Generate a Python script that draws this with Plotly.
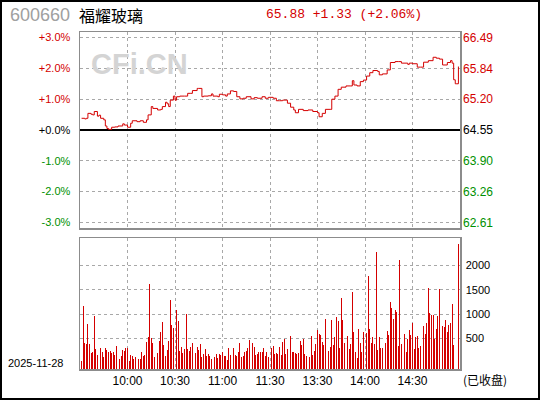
import plotly.graph_objects as go

# quote header
code = "600660"
name = "福耀玻璃"
prev_close = 64.55
last_price = 65.88
change = 1.33
trade_date = "2025-11-28"
status = "(已收盘)"

# x axis: minutes after 9:30 (lunch break removed)
time_ticks = [30, 60, 90, 120, 150, 180, 210]
time_labels = ["10:00", "10:30", "11:00", "11:30", "13:30", "14:00", "14:30"]
pct_ticks = [3, 2, 1, 0, -1, -2, -3]
vol_ticks = [500, 1000, 1500, 2000]

# intraday line, % change vs previous close
price_min = [1, 3, 4, 5, 7, 8, 9, 11, 12, 13, 15, 16, 17, 18, 20, 22, 24, 27, 28, 30,
             32, 33, 36, 38, 40, 42, 43, 45, 46, 49, 51, 52, 54, 55, 56, 57, 59, 60, 61, 63,
             66, 68, 70, 71, 74, 75, 77, 78, 81, 83, 84, 87, 88, 90, 92, 93, 95, 97, 99, 101,
             103, 105, 108, 110, 112, 115, 117, 119, 120, 122, 124, 126, 128, 131, 133, 135, 136, 138, 141, 144,
             147, 150, 151, 153, 155, 158, 159, 161, 163, 165, 168, 171, 172, 173, 175, 177, 179, 181, 183, 185,
             188, 189, 191, 194, 196, 199, 201, 203, 207, 208, 210, 213, 215, 217, 220, 223, 225, 227, 229, 232,
             234, 235, 236, 237, 238, 239]
price_pct = [0.38, 0.36, 0.38, 0.54, 0.51, 0.49, 0.60, 0.45, 0.48, 0.38, 0.33, 0.13, 0.05, 0.02, 0.09, 0.10, 0.13, 0.20, 0.16, 0.09,
             0.22, 0.30, 0.27, 0.30, 0.25, 0.33, 0.49, 0.76, 0.70, 0.65, 0.67, 0.76, 0.90, 0.85, 0.76, 0.97, 1.10, 0.97, 1.08, 1.10,
             1.10, 1.19, 1.19, 1.28, 1.35, 1.35, 1.08, 1.10, 1.11, 1.17, 1.10, 1.08, 1.16, 1.14, 1.10, 1.17, 1.27, 1.25, 1.08, 1.01,
             1.03, 1.08, 1.01, 1.05, 1.03, 1.08, 1.03, 1.06, 1.06, 1.03, 0.95, 0.95, 0.97, 0.87, 0.74, 0.65, 0.56, 0.67, 0.63, 0.65,
             0.60, 0.56, 0.43, 0.54, 0.67, 0.67, 1.00, 1.10, 1.32, 1.39, 1.43, 1.43, 1.60, 1.46, 1.43, 1.57, 1.62, 1.75, 1.86, 1.93,
             1.90, 1.79, 1.82, 1.95, 2.19, 2.22, 2.22, 2.17, 2.13, 2.17, 2.15, 2.04, 2.04, 2.20, 2.25, 2.36, 2.33, 2.30, 2.11, 2.19,
             2.25, 2.17, 1.63, 1.50, 1.50, 2.06]

# per-minute volume (lots), one bar per minute from 9:31
volume = [49, 1173, 403, 382, 798, 382, 195, 215, 965, 278, 153, 132, 299, 215, 111, 299, 257, 215, 236, 195,
          215, 153, 340, 90, 90, 132, 257, 236, 299, 299,
          49, 153, 132, 70, 111, 132, 70, 70, 215, 132, 153, 424, 528, 1610, 507, 403, 111, 257, 195, 444,
          632, 840, 361, 132, 257, 444, 1298, 778, 715, 757,
          1076, 868, 243, 326, 202, 285, 993, 285, 243, 326, 410, 326, 202, 326, 264, 389, 118, 181, 285, 139,
          181, 139, 77, 326, 118, 181, 97, 181, 160, 222, 139, 139, 56, 306, 160, 118, 306, 160, 139, 222,
          410, 118, 139, 222, 243, 306, 472, 180, 410, 326, 160, 181, 222, 222, 222, 306, 139, 222, 118, 243,
          313, 354, 188, 208, 188, 333, 167, 437, 500, 188, 292, 708, 542, 229, 229, 208, 188, 208, 458, 375,
          500, 188, 146, 188, 125, 542, 167, 250, 396, 667, 583, 563, 437, 375, 896, 542, 250, 330, 875, 375,
          521, 937, 854, 300, 1333, 875, 417, 250, 542, 292, 396, 1458, 625, 229, 104, 687, 417, 229, 625, 250,
          604, 1791, 687,
          417, 521, 396, 2270, 271, 521, 313, 313, 313, 417, 646, 563, 1250, 1125, 896, 1083, 1042, 350, 2103, 396,
          208, 583, 229, 500, 667, 563, 812, 292, 521, 542, 313, 354, 667, 750, 583, 812, 1541, 1021, 979, 979,
          500, 687, 958, 1521, 625, 750, 729, 875, 625, 771, 812, 1208, 375,
          0, 0, 2440]

RED = "#d40000"
GREEN = "#009000"
GRID = "#a8a8a8"
FRAME = "#8c8c8c"
VOL_LOW = -125

W, H = 540, 400
L, R, T, B = 80, 80, 32, 31
pw, ph = W - L - R, H - T - B


def px(x):
    return (x - L) / pw


def py(y):
    return (H - B - y) / ph


def tone(v):
    return RED if v > 0 else (GREEN if v < 0 else "#000000")


pct_text = ['<span style="color:%s">%+.1f%%</span>' % (tone(v), v) for v in pct_ticks]
price_text = ['<span style="color:%s">%.2f</span>' % (tone(v), prev_close * (1 + v / 100)) for v in pct_ticks]

bx = [i + 1 for i, v in enumerate(volume) if v > 0]
bv = [v for v in volume if v > 0]

fig = go.Figure()
fig.add_trace(go.Bar(x=bx, y=[v - VOL_LOW for v in bv], base=VOL_LOW, width=0.6,
                     marker=dict(color=RED, line=dict(width=0)), xaxis="x", yaxis="y",
                     hoverinfo="skip"))
fig.add_trace(go.Scatter(x=price_min, y=price_pct, mode="lines", line=dict(color=RED, width=1),
                         line_shape="hv", xaxis="x2", yaxis="y2", hoverinfo="skip"))
fig.add_trace(go.Scatter(x=price_min, y=price_pct, mode="lines", opacity=0, xaxis="x2", yaxis="y3",
                         hoverinfo="skip"))

axis_common = dict(showline=True, linecolor=FRAME, linewidth=1.5, mirror=True, automargin=False,
                   showgrid=True, gridcolor=GRID, griddash="dot", gridwidth=1, zeroline=False)

vol_top = py(238)
price_bot = py(228)

fig.update_layout(
    width=W, height=H, margin=dict(l=L, r=R, t=T, b=B),
    paper_bgcolor="white", plot_bgcolor="white", showlegend=False, bargap=0,
    font=dict(family="Liberation Sans", size=11, color="#000000"),
    xaxis=dict(axis_common, domain=[0, 1], anchor="y", range=[0, 240],
               tickvals=time_ticks, ticktext=time_labels, ticks="",
               tickfont=dict(family="Liberation Sans", size=12)),
    yaxis=dict(axis_common, domain=[0, vol_top], side="right", range=[VOL_LOW, 2560],
               tickvals=vol_ticks, ticks="", ticklabelstandoff=2,
               tickfont=dict(family="Liberation Sans", size=11)),
    xaxis2=dict(axis_common, domain=[0, 1], anchor="y2", range=[0, 240], matches="x",
                tickvals=time_ticks, showticklabels=False, ticks=""),
    yaxis2=dict(axis_common, domain=[price_bot, 1], anchor="x2", range=[-3.18, 3.18],
                tickvals=pct_ticks, ticktext=pct_text, ticks="", ticklabelstandoff=6,
                zeroline=True, zerolinecolor="#000000", zerolinewidth=1.3,
                tickfont=dict(family="Liberation Sans", size=11)),
    yaxis3=dict(overlaying="y2", side="right", anchor="x2", range=[-3.18, 3.18], automargin=False,
                tickvals=pct_ticks, ticktext=price_text, showgrid=False, zeroline=False,
                showline=False, ticks="", ticklabelstandoff=2,
                tickfont=dict(family="Liberation Sans", size=12)),
)

ann = [
    dict(x=px(8), y=py(15), text=code, xanchor="left",
         font=dict(family="Liberation Sans", size=18, color="#a0a0a0")),
    dict(x=px(77), y=py(15), text=name, xanchor="left",
         font=dict(family="Noto Sans CJK SC", size=16, color="#000000")),
    dict(x=px(264), y=py(15), text="%.2f %+.2f (%+.2f%%)" % (last_price, change, change / prev_close * 100),
         xanchor="left", font=dict(family="Liberation Mono", size=13, color=RED)),
    dict(x=px(139), y=py(64), text="<b>CFi.CN</b>", xanchor="center",
         font=dict(family="Liberation Sans", size=29, color="#d4d4d4")),
    dict(x=px(6), y=py(363), text=trade_date, xanchor="left",
         font=dict(family="Liberation Sans", size=11, color="#000000")),
    dict(x=px(461), y=py(380), text=status, xanchor="left",
         font=dict(family="Noto Sans CJK SC", size=12, color="#000000")),
]
for a in ann:
    a.update(xref="paper", yref="paper", yanchor="middle", showarrow=False)
fig.update_layout(annotations=ann)

# outer frame of the picture
fig.add_shape(type="rect", xref="paper", yref="paper",
              x0=px(1), x1=px(539), y0=py(399), y1=py(1),
              line=dict(color="#000000", width=2), layer="above")

# page has a default 8px body margin; drop it so the figure sits at 0,0
fig.write_html("out.html", config={"displayModeBar": False, "staticPlot": True},
               post_script="document.body.style.margin='0';")
